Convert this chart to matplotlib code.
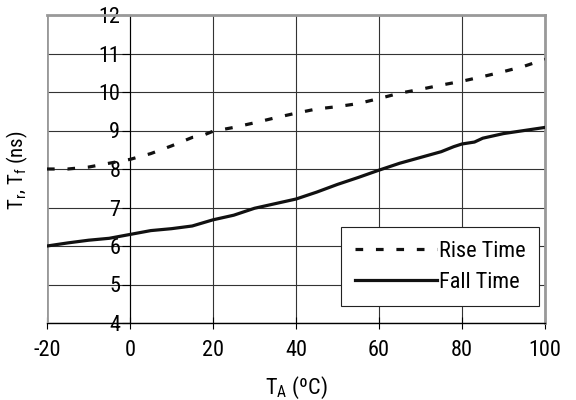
"""Rise/fall time vs ambient temperature chart."""
import matplotlib
matplotlib.use("Agg")
import matplotlib.pyplot as plt

plt.rcParams["font.family"] = ["Roboto Condensed", "DejaVu Sans"]
plt.rcParams["axes.unicode_minus"] = False

temp_rise = [-20, -15, -10, -5, 0, 5, 10, 15, 17, 20, 25, 30, 35, 40, 45, 50, 55, 60,
             65, 70, 75, 80, 85, 90, 95, 100]
rise_time = [8.0, 8.0, 8.05, 8.15, 8.25, 8.4, 8.6, 8.82, 8.85, 8.98, 9.08, 9.2, 9.33,
             9.45, 9.56, 9.62, 9.7, 9.83, 9.97, 10.07, 10.18, 10.28, 10.4, 10.53,
             10.67, 10.85]

temp_fall = [-20, -15, -10, -5, 0, 5, 10, 15, 20, 25, 30, 35, 40, 45, 50, 55, 60, 65,
             70, 75, 78, 80, 83, 85, 90, 95, 100]
fall_time = [6.0, 6.08, 6.15, 6.2, 6.3, 6.4, 6.45, 6.52, 6.68, 6.8, 6.98, 7.1, 7.22,
             7.4, 7.6, 7.78, 7.97, 8.15, 8.3, 8.45, 8.58, 8.65, 8.7, 8.8, 8.92, 9.0,
             9.08]

x_ticks = [-20, 0, 20, 40, 60, 80, 100]
y_ticks = [4, 5, 6, 7, 8, 9, 10, 11, 12]

fig = plt.figure(figsize=(5.76, 4.0), dpi=100)
ax = fig.add_axes([47 / 576, 77 / 400, 498 / 576, 308 / 400])

ax.set_xlim(-20, 100)
ax.set_ylim(4, 12)
ax.set_xticks(x_ticks)
ax.set_yticks(y_ticks)
ax.grid(True, color="#333333", lw=0.8)
ax.set_axisbelow(True)

# grey frame, y axis crosses at x=0
ax.spines["left"].set_position(("data", 0))
ax.spines["left"].set_color("black")
ax.spines["left"].set_linewidth(0.8)
for side in ["top", "right"]:
    ax.spines[side].set_color("#999999")
    ax.spines[side].set_linewidth(2)
ax.spines["bottom"].set_linewidth(1)
ax.axvline(-20, color="#999999", lw=2, zorder=3)

ax.plot(temp_rise, rise_time, color="#111111", lw=2.3, ls=(0, (2.4, 4)),
        label="Rise Time", zorder=4)
ax.plot(temp_fall, fall_time, color="#111111", lw=2.3, label="Fall Time", zorder=4)

ax.tick_params(axis="y", direction="out", length=6, width=0.8, labelsize=16, pad=1)
ax.tick_params(axis="x", direction="inout", length=8, width=0.8, labelsize=16, pad=8)

ax.set_xlabel("T$_\\mathregular{A}$ (ºC)", fontsize=16, labelpad=10)
fig.text(17 / 576, 0.575, "T$_\\mathregular{r}$, T$_\\mathregular{f}$ (ns)",
         rotation=90, fontsize=15, ha="center", va="center")

leg = ax.legend(loc="lower right", bbox_to_anchor=(0.988, 0.055), fontsize=16,
                frameon=True, fancybox=False, edgecolor="#222222", framealpha=1,
                handlelength=3.7, handletextpad=0.1, borderpad=0.6,
                labelspacing=0.45, borderaxespad=0)
leg.get_frame().set_linewidth(0.8)

fig.savefig("out.png", dpi=100)
